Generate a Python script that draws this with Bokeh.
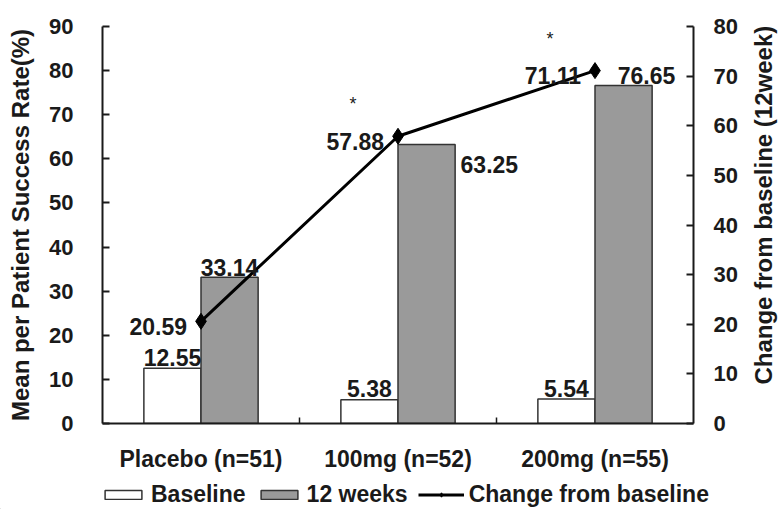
from bokeh.plotting import figure
from bokeh.models import Range1d, LinearAxis, FixedTicker, Legend, LegendItem
from bokeh.layouts import row, column
from bokeh.core.properties import value
from bokeh.embed import file_html
from bokeh.resources import INLINE
import math

categories = ["Placebo (n=51)", "100mg (n=52)", "200mg (n=55)"]
baseline = [12.55, 5.38, 5.54]
week12 = [33.14, 63.25, 76.65]
change = [20.59, 57.88, 71.11]
significant = [False, True, True]
left_ticks = [0, 10, 20, 30, 40, 50, 60, 70, 80, 90]
right_ticks = [0, 10, 20, 30, 40, 50, 60, 70, 80]
legend_labels = ["Baseline", "12 weeks", "Change from baseline"]
left_title = "Mean per Patient Success Rate(%)"
right_title = "Change from baseline (12week)"

FONT = "Liberation Sans"
INK = "#1a1a1a"
GREY = "#9a9a9a"

centers = [i + 0.5 for i in range(len(categories))]
bw = 0.29
x_base = [c - bw / 2 for c in centers]
x_wk = [c + bw / 2 for c in centers]

p = figure(width=745, height=474, x_range=Range1d(0, 3), y_range=Range1d(0, 90),
           x_axis_type=None, y_axis_type=None,
           output_backend="svg", toolbar_location=None,
           min_border_left=102, min_border_right=52, min_border_top=26, min_border_bottom=49)
p.outline_line_color = None
p.extra_y_ranges = {"right": Range1d(0, 80)}
p.background_fill_color = "white"


def style_axis(ax):
    ax.axis_line_color = INK
    ax.axis_line_width = 2
    ax.major_tick_line_color = INK
    ax.major_tick_line_width = 2
    ax.minor_tick_line_color = INK
    ax.minor_tick_line_width = 1.5
    ax.major_label_text_font = FONT
    ax.major_label_text_font_style = "bold"
    ax.major_label_text_font_size = "22px"
    ax.major_label_text_color = INK
    ax.axis_label_text_font = FONT
    ax.axis_label_text_color = INK
    ax.axis_label_text_font_size = "24px"
    ax.axis_label_text_font_style = "bold"


yl = LinearAxis(ticker=FixedTicker(ticks=left_ticks), axis_label=left_title)
style_axis(yl)
yl.major_tick_in = 7
yl.major_tick_out = 0
yl.minor_tick_in = 0
yl.minor_tick_out = 0
yl.major_label_standoff = 29
yl.axis_label_standoff = 12
p.add_layout(yl, "left")

yr = LinearAxis(y_range_name="right", ticker=FixedTicker(ticks=right_ticks))
style_axis(yr)
yr.major_tick_in = 7
yr.major_tick_out = 0
yr.minor_tick_in = 0
yr.minor_tick_out = 0
yr.major_label_standoff = 20
p.add_layout(yr, "right")

xb = LinearAxis(ticker=FixedTicker(ticks=centers, minor_ticks=[1, 2]),
                major_label_overrides={c: n for c, n in zip(centers, categories)})
style_axis(xb)
xb.major_label_text_font_size = "23px"
xb.major_tick_in = 0
xb.major_tick_out = 0
xb.minor_tick_in = 6
xb.minor_tick_out = 0
xb.major_label_standoff = 22
p.add_layout(xb, "below")

bar_line = dict(line_color="#333333", line_width=1.5)
p.vbar(x=x_base, top=baseline, width=bw, fill_color="white", **bar_line)
p.vbar(x=x_wk, top=week12, width=bw, fill_color=GREY, **bar_line)
p.line(centers, change, y_range_name="right", line_color="black", line_width=3)
p.scatter(centers, change, y_range_name="right", marker="diamond", size=16,
          fill_color="black", line_color="black")

txt = dict(text_font=value(FONT), text_font_style="bold", text_font_size="23px",
           text_color=INK, text_baseline="alphabetic")

# baseline labels
p.text(x=x_base, y=baseline, text=[f"{v:.2f}" for v in baseline], text_align="center",
       y_offset=-11, **txt)
# 12 weeks labels
p.text(x=x_wk[:1], y=week12[:1], text=[f"{v:.2f}" for v in week12[:1]], text_align="center",
       y_offset=-10, **txt)
p.text(x=x_wk[1:2], y=week12[1:2], text=[f"{v:.2f}" for v in week12[1:2]], text_align="left",
       x_offset=34, y_offset=20, **txt)
p.text(x=x_wk[2:], y=week12[2:], text=[f"{v:.2f}" for v in week12[2:]], text_align="center",
       x_offset=23, y_offset=-10, **txt)
# change labels
p.text(x=centers, y=change, y_range_name="right", text=[f"{v:.2f}" for v in change],
       text_align="right", x_offset=-14, y_offset=5, **txt)
# significance stars
sx = [c for c, s in zip(centers, significant) if s]
sy = [v for v, s in zip(change, significant) if s]
p.text(x=sx, y=sy, y_range_name="right", text=["*"] * len(sx), text_align="center",
       text_baseline="middle", x_offset=-45, y_offset=-32, text_font=value(FONT),
       text_font_size="18px", text_color=INK)

# right-hand axis title, reading bottom to top
pr = figure(width=36, height=474, x_range=Range1d(0, 1), y_range=Range1d(0, 1),
            x_axis_type=None, y_axis_type=None, output_backend="svg", toolbar_location=None,
            min_border_left=0, min_border_right=0, min_border_top=0, min_border_bottom=0)
pr.outline_line_color = None
pr.text(x=[0.5], y=[0.55], text=[right_title], angle=math.pi / 2, text_align="center",
        text_baseline="middle", text_font=value(FONT), text_font_style="bold",
        text_font_size="24px", text_color=INK)

# legend strip below the chart (placeholder glyphs sit outside the visible range)
pl = figure(width=781, height=35, x_range=Range1d(0, 1), y_range=Range1d(0, 1),
            x_axis_type=None, y_axis_type=None, output_backend="svg", toolbar_location=None,
            min_border_left=0, min_border_right=0, min_border_top=0, min_border_bottom=0)
pl.outline_line_color = None
g_base = pl.vbar(x=[-10], top=[0], width=0.1, fill_color="white", **bar_line)
g_wk = pl.vbar(x=[-10], top=[0], width=0.1, fill_color=GREY, **bar_line)
g_line = pl.line(x=[-10, -9], y=[0, 0], line_color="black", line_width=3)
g_pts = pl.scatter(x=[-10], y=[0], marker="diamond", size=13, fill_color="black", line_color="black")

legend = Legend(items=[
    LegendItem(label=legend_labels[0], renderers=[g_base]),
    LegendItem(label=legend_labels[1], renderers=[g_wk]),
    LegendItem(label=legend_labels[2], renderers=[g_line, g_pts]),
], orientation="horizontal", location=(100, 1))
legend.border_line_color = None
legend.background_fill_alpha = 0
legend.label_text_font = FONT
legend.label_text_font_style = "bold"
legend.label_text_font_size = "23px"
legend.label_text_color = INK
legend.glyph_width = 46
legend.glyph_height = 11
legend.label_standoff = 5
legend.spacing = 10
legend.padding = 0
legend.margin = 0
pl.add_layout(legend, "center")

layout = column(row(p, pr, spacing=0), pl, spacing=0)
open("out.html", "w").write(file_html(layout, INLINE))
